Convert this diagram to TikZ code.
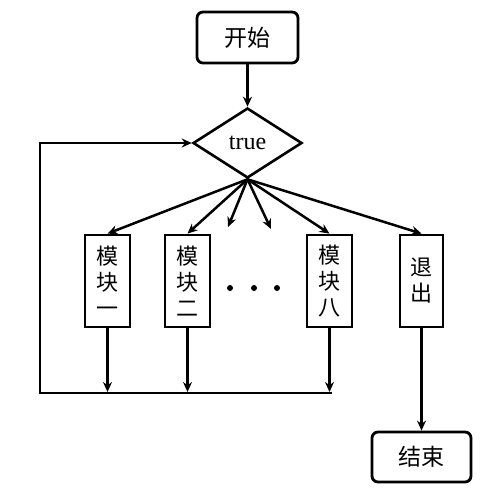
\documentclass[tikz,border=0pt]{standalone}
\usepackage{fontspec}
\setmainfont{Liberation Serif}
\newfontfamily\cjk{Noto Sans CJK SC}
\usetikzlibrary{shapes.geometric,arrows.meta}
\begin{document}
\begin{tikzpicture}[x=1pt,y=-1pt,
  term/.style={draw,line width=2.8pt,rounded corners=6pt,minimum width=101pt,minimum height=51pt,inner sep=0pt,font=\cjk\fontsize{23}{26}\selectfont},
  modbox/.style={draw,line width=2.8pt,minimum width=45pt,minimum height=92pt,inner sep=0pt,align=center,font=\cjk\fontsize{22}{26}\selectfont},
  dec/.style={draw,diamond,line width=2.6pt,minimum width=109pt,minimum height=70pt,inner sep=0pt,font=\fontsize{24}{26}\selectfont},
  arr/.style={line width=2.5pt,-{Stealth[length=10pt,width=9pt]}},
  dot/.style={circle,fill,inner sep=0pt,minimum size=6pt}]
\useasboundingbox (0,0) rectangle (500,500);
\node[term] (start) at (247.5,37.5) {开始};
\node[dec] (d) at (247.5,143) {true};
\node[modbox] (m1) at (107.5,281) {模\\块\\一};
\node[modbox] (m2) at (187.5,281) {模\\块\\二};
\node[modbox] (m8) at (329.5,281) {模\\块\\八};
\node[modbox,minimum width=43pt] (ex) at (421.5,281) {退\\出};
\node[term,minimum width=99pt,minimum height=50pt] (end) at (421.5,457) {结束};
\node[dot] (dot1) at (230,288) {};
\node[dot] (dot2) at (254,288) {};
\node[dot] (dot3) at (277,288) {};
\coordinate (f1) at (228,227);
\coordinate (f2) at (271,229);
\coordinate (b1) at (107.5,392);
\coordinate (b2) at (187.5,392);
\coordinate (b8) at (329.5,392);
\coordinate (lr) at (332,393);
\coordinate (ll) at (40,393);
\coordinate (lt) at (40,143);
\draw[arr] (start) -- (d.north);
\draw[arr] (d.south) -- (m1.north);
\draw[arr] (d.south) -- (m2.north);
\draw[arr] (d.south) -- (f1);
\draw[arr] (d.south) -- (f2);
\draw[arr] (d.south) -- (m8.north);
\draw[arr] (d.south) -- (ex.north);
\draw[arr] (m1.south) -- (b1);
\draw[arr] (m2.south) -- (b2);
\draw[arr] (m8.south) -- (b8);
\draw[arr] (ex.south) -- (end.north);
\draw[arr] (lr) -- (ll) -- (lt) -- (d.west);
\end{tikzpicture}
\end{document}
